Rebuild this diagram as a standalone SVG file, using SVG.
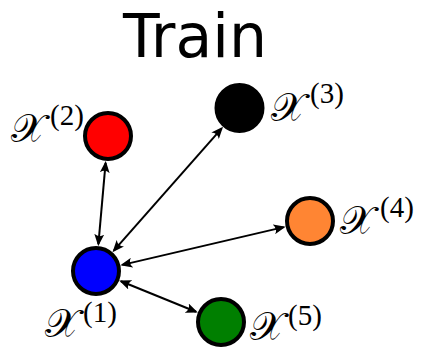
<svg xmlns="http://www.w3.org/2000/svg" width="422" height="349" viewBox="0 0 422 349">
  <style>
    .title { font-family: "DejaVu Sans", sans-serif; font-size: 60px; fill: #000; }
    .node { stroke: #000; stroke-width: 4; }
    .edge { stroke: #000; stroke-width: 2; fill: none; marker-start: url(#head); marker-end: url(#head); }
    .lx { font-family: "DejaVu Serif", "Noto Sans", serif; font-size: 40px; fill: #000; }
    .sup { font-family: "Liberation Serif", serif; font-size: 29px; fill: #000; }
  </style>
  <defs>
    <marker id="head" viewBox="0 0 12 10" markerUnits="userSpaceOnUse" markerWidth="12" markerHeight="10" refX="10" refY="5" orient="auto-start-reverse">
      <path d="M12,5 L0,0 Q4,5 0,10 Z" fill="#000"/>
    </marker>
  </defs>
  <text class="title" x="195" y="57" text-anchor="middle">Train</text>
  <g id="connectors">
    <line class="edge" x1="98.4" y1="244.1" x2="105.6" y2="162.9"/>
    <line class="edge" x1="113.8" y1="250.7" x2="221.7" y2="128.3"/>
    <line class="edge" x1="122.3" y1="264.9" x2="283.7" y2="227.1"/>
    <line class="edge" x1="121.0" y1="281.2" x2="196.0" y2="311.8"/>
  </g>
  <g id="node1">
    <circle class="node" cx="96" cy="271" r="23" fill="#0000ff"/>
    <text class="lx" x="45" y="337">𝒳</text>
    <text class="sup" x="83" y="322">(1)</text>
  </g>
  <g id="node2">
    <circle class="node" cx="108" cy="136" r="23" fill="#ff0000"/>
    <text class="lx" x="11" y="142">𝒳</text>
    <text class="sup" x="50" y="125">(2)</text>
  </g>
  <g id="node3">
    <circle class="node" cx="239.5" cy="108" r="23" fill="#000000"/>
    <text class="lx" x="271" y="121">𝒳</text>
    <text class="sup" x="310" y="103">(3)</text>
  </g>
  <g id="node4">
    <circle class="node" cx="310" cy="221" r="23" fill="#ff8533"/>
    <text class="lx" x="340" y="234">𝒳</text>
    <text class="sup" x="380" y="217">(4)</text>
  </g>
  <g id="node5">
    <circle class="node" cx="221" cy="322" r="23" fill="#007f00"/>
    <text class="lx" x="250" y="340">𝒳</text>
    <text class="sup" x="288" y="325">(5)</text>
  </g>
</svg>
